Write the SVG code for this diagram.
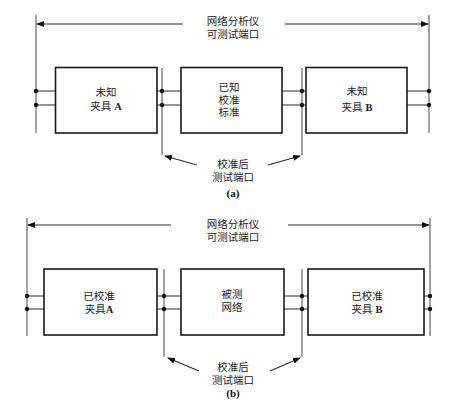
<svg xmlns="http://www.w3.org/2000/svg" width="451" height="402" viewBox="0 0 451 402">
<style>
.box{fill:#fff;stroke:#1a1a1a;stroke-width:1.6}
.ln{stroke:#2a2a2a;stroke-width:1.1;fill:none}
.thin{stroke:#333;stroke-width:0.9;fill:none}
.dot{fill:#111}
.t{font-family:"Liberation Sans","Noto Sans CJK SC",sans-serif;font-size:10.5px;fill:#222;text-anchor:middle}
.s{font-family:"Liberation Serif",serif;font-weight:bold}
.cap{font-family:"Liberation Serif",serif;font-weight:bold;font-size:11px;fill:#111;text-anchor:middle}
</style>
<defs>
<marker id="ah" markerUnits="userSpaceOnUse" markerWidth="8" markerHeight="6" refX="7" refY="3" orient="auto">
<path d="M0,0 L8,3 L0,6 Z" fill="#111"/>
</marker>
</defs>
<g id="connectors">
<!-- (a) -->
<line class="thin" x1="36" y1="15" x2="36" y2="133"/>
<line class="thin" x1="429" y1="15" x2="429" y2="133"/>
<line class="ln" x1="183" y1="24" x2="37" y2="24" marker-end="url(#ah)"/>
<line class="ln" x1="285" y1="24" x2="428" y2="24" marker-end="url(#ah)"/>
<line class="thin" x1="162" y1="68" x2="162" y2="155"/>
<line class="thin" x1="302" y1="68" x2="302" y2="155"/>
<path class="ln" d="M36,91H55M36,105H55M157,91H181M157,105H181M282,91H306M282,105H306M407,91H429M407,105H429"/>
<line class="ln" x1="197" y1="165" x2="165" y2="156" marker-end="url(#ah)"/>
<line class="ln" x1="268" y1="165" x2="300" y2="156" marker-end="url(#ah)"/>
<g class="dot">
<circle cx="36" cy="91" r="2.2"/><circle cx="36" cy="105" r="2.2"/>
<circle cx="162" cy="91" r="2.2"/><circle cx="162" cy="105" r="2.2"/>
<circle cx="302" cy="91" r="2.2"/><circle cx="302" cy="105" r="2.2"/>
<circle cx="429" cy="91" r="2.2"/><circle cx="429" cy="105" r="2.2"/>
</g>
<!-- (b) -->
<line class="thin" x1="27" y1="218" x2="27" y2="336"/>
<line class="thin" x1="430" y1="218" x2="430" y2="336"/>
<line class="ln" x1="171" y1="225" x2="28" y2="225" marker-end="url(#ah)"/>
<line class="ln" x1="288" y1="225" x2="429" y2="225" marker-end="url(#ah)"/>
<line class="thin" x1="164" y1="269" x2="164" y2="357"/>
<line class="thin" x1="302" y1="269" x2="302" y2="357"/>
<path class="ln" d="M27,296H44M27,309H44M157,296H181M157,309H181M284,296H308M284,309H308M424,296H430M424,309H430"/>
<line class="ln" x1="199" y1="371" x2="168" y2="358" marker-end="url(#ah)"/>
<line class="ln" x1="270" y1="371" x2="300" y2="358" marker-end="url(#ah)"/>
<g class="dot">
<circle cx="27" cy="296" r="2.2"/><circle cx="27" cy="309" r="2.2"/>
<circle cx="164" cy="296" r="2.2"/><circle cx="164" cy="309" r="2.2"/>
<circle cx="302" cy="296" r="2.2"/><circle cx="302" cy="309" r="2.2"/>
<circle cx="430" cy="296" r="2.2"/><circle cx="430" cy="309" r="2.2"/>
</g>
</g>
<g id="labels-a">
<text class="t" x="233" y="25">网络分析仪</text>
<text class="t" x="233" y="37.5">可测试端口</text>
<text class="t" x="233" y="168">校准后</text>
<text class="t" x="233" y="180.5">测试端口</text>
<text class="cap" x="233" y="197">(a)</text>
</g>
<g id="fixtureA-a">
<rect class="box" x="55.5" y="67.5" width="101.5" height="65.5"/>
<text class="t" x="106" y="96">未知</text>
<text class="t" x="106" y="110">夹具 <tspan class="s">A</tspan></text>
</g>
<g id="standard-a">
<rect class="box" x="181" y="67.5" width="101" height="65.5"/>
<text class="t" x="229" y="91">已知</text>
<text class="t" x="229" y="103.5">校准</text>
<text class="t" x="229" y="116">标准</text>
</g>
<g id="fixtureB-a">
<rect class="box" x="306" y="67.5" width="101" height="65.5"/>
<text class="t" x="357" y="95">未知</text>
<text class="t" x="357" y="111">夹具 <tspan class="s">B</tspan></text>
</g>
<g id="labels-b">
<text class="t" x="233" y="228">网络分析仪</text>
<text class="t" x="233" y="240.5">可测试端口</text>
<text class="t" x="233" y="371">校准后</text>
<text class="t" x="233" y="383.5">测试端口</text>
<text class="cap" x="233" y="397">(b)</text>
</g>
<g id="fixtureA-b">
<rect class="box" x="44" y="269" width="113" height="66"/>
<text class="t" x="99" y="300">已校准</text>
<text class="t" x="99" y="312.5">夹具<tspan class="s">A</tspan></text>
</g>
<g id="dut-b">
<rect class="box" x="181" y="269" width="103" height="66"/>
<text class="t" x="232" y="298">被测</text>
<text class="t" x="232" y="311">网络</text>
</g>
<g id="fixtureB-b">
<rect class="box" x="308" y="269" width="116" height="66"/>
<text class="t" x="367" y="300">已校准</text>
<text class="t" x="367" y="312.5">夹具 <tspan class="s">B</tspan></text>
</g>
</svg>
